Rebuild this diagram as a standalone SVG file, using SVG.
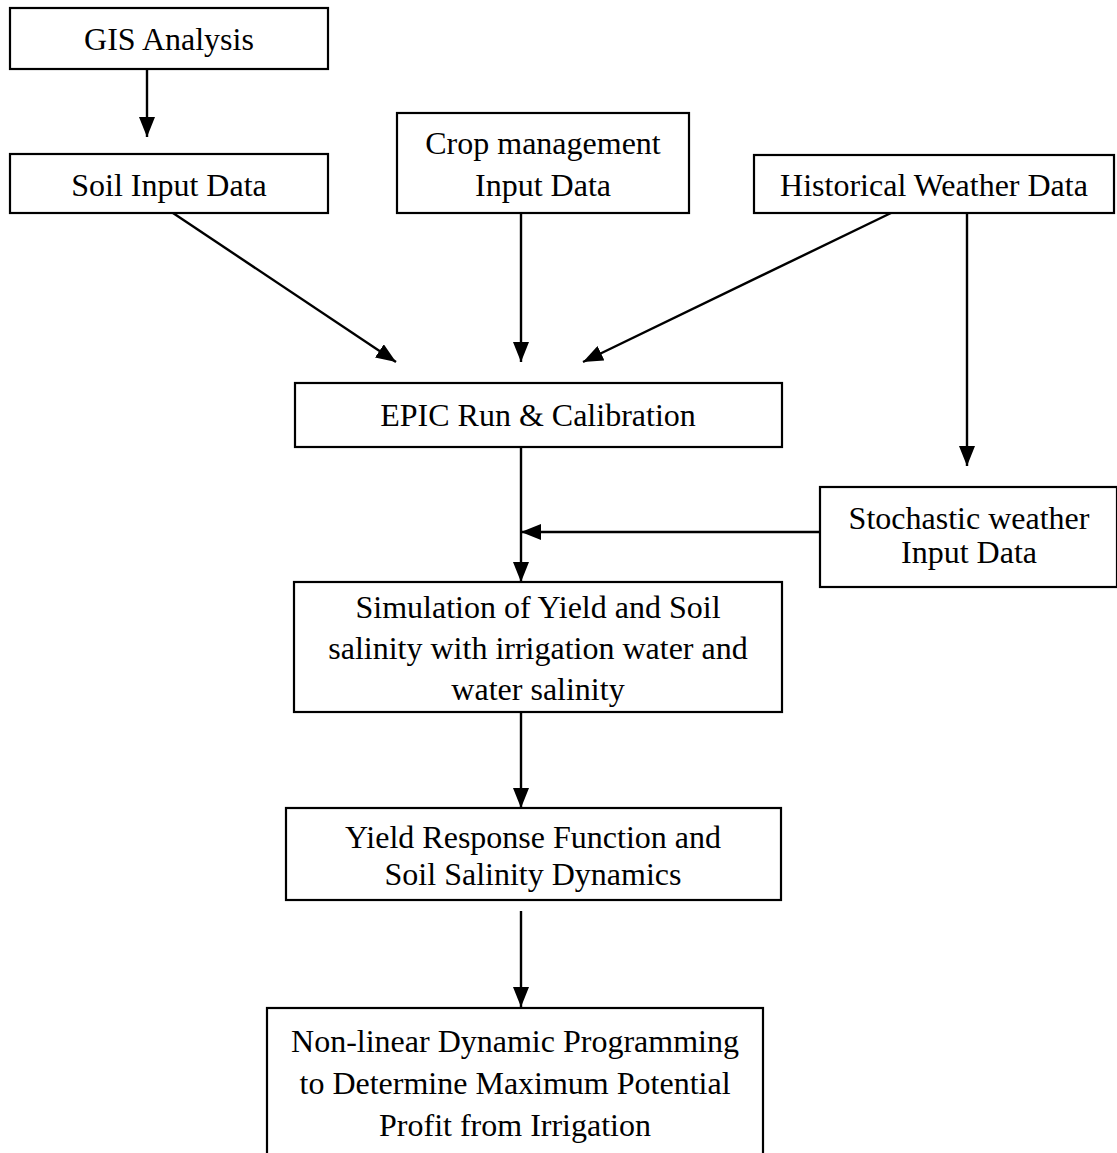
<svg xmlns="http://www.w3.org/2000/svg" width="1117" height="1153" viewBox="0 0 1117 1153">
<style>
.box{fill:#fff;stroke:#000;stroke-width:2.2}
.t{font-family:"Liberation Serif","Times New Roman",serif;font-size:32px;fill:#000;text-anchor:middle}
.c{stroke:#000;stroke-width:2.4;fill:none;marker-end:url(#ah)}
</style>
<defs>
<marker id="ah" markerUnits="userSpaceOnUse" markerWidth="20" markerHeight="16" refX="20" refY="8" orient="auto" viewBox="0 0 20 16">
<path d="M0,0 L20,8 L0,16 z" fill="#000"/>
</marker>
</defs>
<rect width="1117" height="1153" fill="#fff"/>
<g id="connectors">
<line class="c" x1="147" y1="69" x2="147" y2="137"/>
<line class="c" x1="173" y1="213" x2="396" y2="362"/>
<line class="c" x1="521" y1="213" x2="521" y2="362"/>
<line class="c" x1="891" y1="213" x2="583" y2="362"/>
<line class="c" x1="967" y1="213" x2="967" y2="466"/>
<line class="c" x1="521" y1="447" x2="521" y2="582"/>
<line class="c" x1="820" y1="532" x2="521" y2="532"/>
<line class="c" x1="521" y1="712" x2="521" y2="808"/>
<line class="c" x1="521" y1="911" x2="521" y2="1007"/>
</g>
<g id="gis"><rect class="box" x="10" y="8" width="318" height="61"/><text class="t" x="169" y="50">GIS Analysis</text></g>
<g id="soil"><rect class="box" x="10" y="154" width="318" height="59"/><text class="t" x="169" y="196">Soil Input Data</text></g>
<g id="crop"><rect class="box" x="397" y="113" width="292" height="100"/><text class="t" x="543" y="154">Crop management</text><text class="t" x="543" y="196">Input Data</text></g>
<g id="hist"><rect class="box" x="754" y="155" width="360" height="58"/><text class="t" x="934" y="196">Historical Weather Data</text></g>
<g id="epic"><rect class="box" x="295" y="383" width="487" height="64"/><text class="t" x="538" y="426">EPIC Run &amp; Calibration</text></g>
<g id="stoch"><rect class="box" x="820" y="487" width="297" height="100"/><text class="t" x="969" y="529">Stochastic weather</text><text class="t" x="969" y="563">Input Data</text></g>
<g id="sim"><rect class="box" x="294" y="582" width="488" height="130"/><text class="t" x="538" y="618">Simulation of Yield and Soil</text><text class="t" x="538" y="659">salinity with irrigation water and</text><text class="t" x="538" y="700">water salinity</text></g>
<g id="yield"><rect class="box" x="286" y="808" width="495" height="92"/><text class="t" x="533" y="848">Yield Response Function and</text><text class="t" x="533" y="885">Soil Salinity Dynamics</text></g>
<g id="nldp"><rect class="box" x="267" y="1008" width="496" height="160"/><text class="t" x="515" y="1052">Non-linear Dynamic Programming</text><text class="t" x="515" y="1094">to Determine Maximum Potential</text><text class="t" x="515" y="1136">Profit from Irrigation</text></g>
</svg>
